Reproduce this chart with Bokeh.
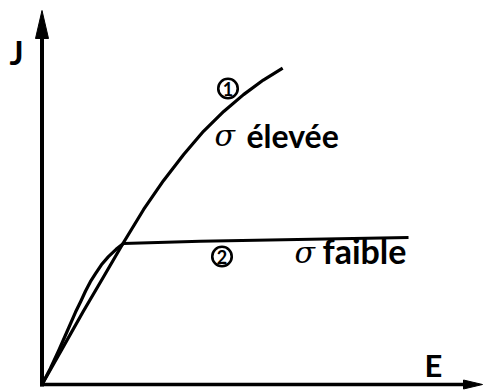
from bokeh.plotting import figure
from bokeh.models import Range1d
from bokeh.core.properties import value
from bokeh.embed import file_html
from bokeh.resources import INLINE

# Curve 1 : sigma élevée (J keeps rising with E)
E_high = [0, 0.47, 0.94, 1.40, 1.85, 2.31, 2.76, 3.22, 3.67, 4.13, 4.58, 5.03, 5.47]
J_high = [0, 0.98, 1.96, 2.88, 3.79, 4.68, 5.45, 6.15, 6.77, 7.30, 7.75, 8.14, 8.46]

# Curve 2 : sigma faible (J saturates)
E_low = [0, 0.19, 0.38, 0.56, 0.76, 0.88, 0.99, 1.10, 1.22, 1.35, 1.51, 1.69, 1.85, 3.60, 8.33]
J_low = [0, 0.43, 0.91, 1.39, 1.93, 2.22, 2.50, 2.75, 2.97, 3.20, 3.42, 3.62, 3.77, 3.83, 3.93]

curve_labels = ["1", "2"]
curve_names = ["élevée", "faible"]
axis_names = ["E", "J"]

W, H = 483, 390
SX, SY = 44.0, 37.4        # pixels per unit of E and J
OX, OY = 41.5, 384.0       # origin position on the page

p = figure(width=W, height=H,
           x_range=Range1d(-OX / SX, (W - OX) / SX),
           y_range=Range1d(-(H - OY) / SY, OY / SY),
           output_backend="svg", toolbar_location=None, min_border=0,
           x_axis_type=None, y_axis_type=None)
p.outline_line_color = None
p.background_fill_color = "white"
p.border_fill_color = "white"

INK = "#000000"


def ex(px):
    """page x (px) -> E"""
    return (px - OX) / SX


def jy(px):
    """page y (px) -> J"""
    return (OY - px) / SY


def base(px, size):
    """anchor for a text whose baseline should sit at page y = px"""
    return jy(px - 0.42 * size)


# axes with arrow heads
x_tip, y_tip = ex(482), jy(10)
p.line([ex(39.5), ex(466)], [0, 0], line_color=INK, line_width=3.5)
p.patch([x_tip, ex(463), ex(463)], [0, jy(OY - 4.5), jy(OY + 4.5)],
        fill_color=INK, line_color=INK, line_width=1)
p.line([0, 0], [jy(386), jy(34)], line_color=INK, line_width=4)
p.patch([0, ex(OX + 6.5), ex(OX - 6.5)], [y_tip, jy(38), jy(38)],
        fill_color=INK, line_color=INK, line_width=1)

# curves
p.line(E_high, J_high, line_color=INK, line_width=3.2, line_join="round")
p.line(E_low, J_low, line_color=INK, line_width=3.2, line_join="round")

BOLD = value("Lato")
SIG = value("DejaVu Serif")

# axis names
p.text([ex(424)], [base(378, 31)], text=[axis_names[0]], text_font=BOLD,
       text_font_style="bold", text_font_size="31px", text_color=INK,
       text_baseline="alphabetic", text_align="left")
p.text([ex(9)], [base(65, 33)], text=[axis_names[1]], text_font=BOLD,
       text_font_style="bold", text_font_size="33px", text_color=INK,
       text_baseline="alphabetic", text_align="left")

# circled curve numbers
num_x = [ex(227.5), ex(221.5)]
num_y = [jy(88), jy(256)]
p.scatter(num_x, num_y, marker="circle", size=19.5, fill_color=None,
          line_color=INK, line_width=2.6)
p.text(num_x, num_y, text=curve_labels, text_font=BOLD, text_font_style="bold",
       text_font_size="18px", text_color=INK, text_align="center",
       text_baseline="middle")

# sigma labels
p.text([ex(214), ex(294)], [base(148, 30), base(265, 30)], text=["σ", "σ"],
       text_font=SIG, text_font_style="italic", text_font_size="30px",
       text_color=INK, text_baseline="alphabetic", text_align="left")
p.text([ex(246)], [base(148, 32)], text=[curve_names[0]], text_font=BOLD,
       text_font_style="bold", text_font_size="32px", text_color=INK,
       text_baseline="alphabetic", text_align="left")
p.text([ex(322)], [base(264, 34)], text=[curve_names[1]], text_font=BOLD,
       text_font_style="bold", text_font_size="34px", text_color=INK,
       text_baseline="alphabetic", text_align="left")

open("out.html", "w").write(file_html(p, INLINE))
